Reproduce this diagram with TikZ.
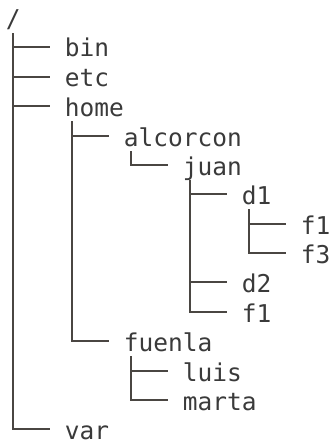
\documentclass[tikz,border=0pt]{standalone}
\usepackage{fontspec}
\setmonofont{DejaVu Sans Mono}
\usepackage{tikz}

\definecolor{ink}{HTML}{3A3A3A}
\definecolor{rule}{HTML}{4A4642}

\tikzset{
  entry/.style={anchor=base west, inner sep=0pt, text height=20pt, text depth=0pt,
    text=ink, font=\ttfamily\fontsize{24.5}{29.4}\selectfont},
  branch/.style={draw=rule, line width=2pt}
}

\begin{document}
\begin{tikzpicture}[x=1pt,y=1pt,yscale=-1]
\useasboundingbox (0,0) rectangle (332,441);

% entries, one per row (baseline = row + 10)
\node[entry] (root) at (5.65,28) {/};
\node[entry] (bin) at (64.65,57) {bin};
\node[entry] (etc) at (64.65,87) {etc};
\node[entry] (home) at (64.65,116) {home};
\node[entry] (alcorcon) at (123.65,146) {alcorcon};
\node[entry] (juan) at (182.65,175) {juan};
\node[entry] (d1) at (241.65,204) {d1};
\node[entry] (f1a) at (300.65,234) {f1};
\node[entry] (f3) at (300.65,263) {f3};
\node[entry] (d2) at (241.65,292) {d2};
\node[entry] (f1b) at (241.65,322) {f1};
\node[entry] (fuenla) at (123.65,351) {fuenla};
\node[entry] (luis) at (182.65,381) {luis};
\node[entry] (marta) at (182.65,410) {marta};
\node[entry] (var) at (64.65,439) {var};

% tree branches
\foreach \p/\c in {root/bin,root/etc,root/home,root/var,
                   home/alcorcon,home/fuenla,alcorcon/juan,
                   juan/d1,juan/d2,juan/f1b,d1/f1a,d1/f3,
                   fuenla/luis,fuenla/marta}
  \draw[branch] ([xshift=7.35pt,yshift=5pt]\p.south west) |- ([xshift=-14.75pt]\c.west);

\end{tikzpicture}
\end{document}
